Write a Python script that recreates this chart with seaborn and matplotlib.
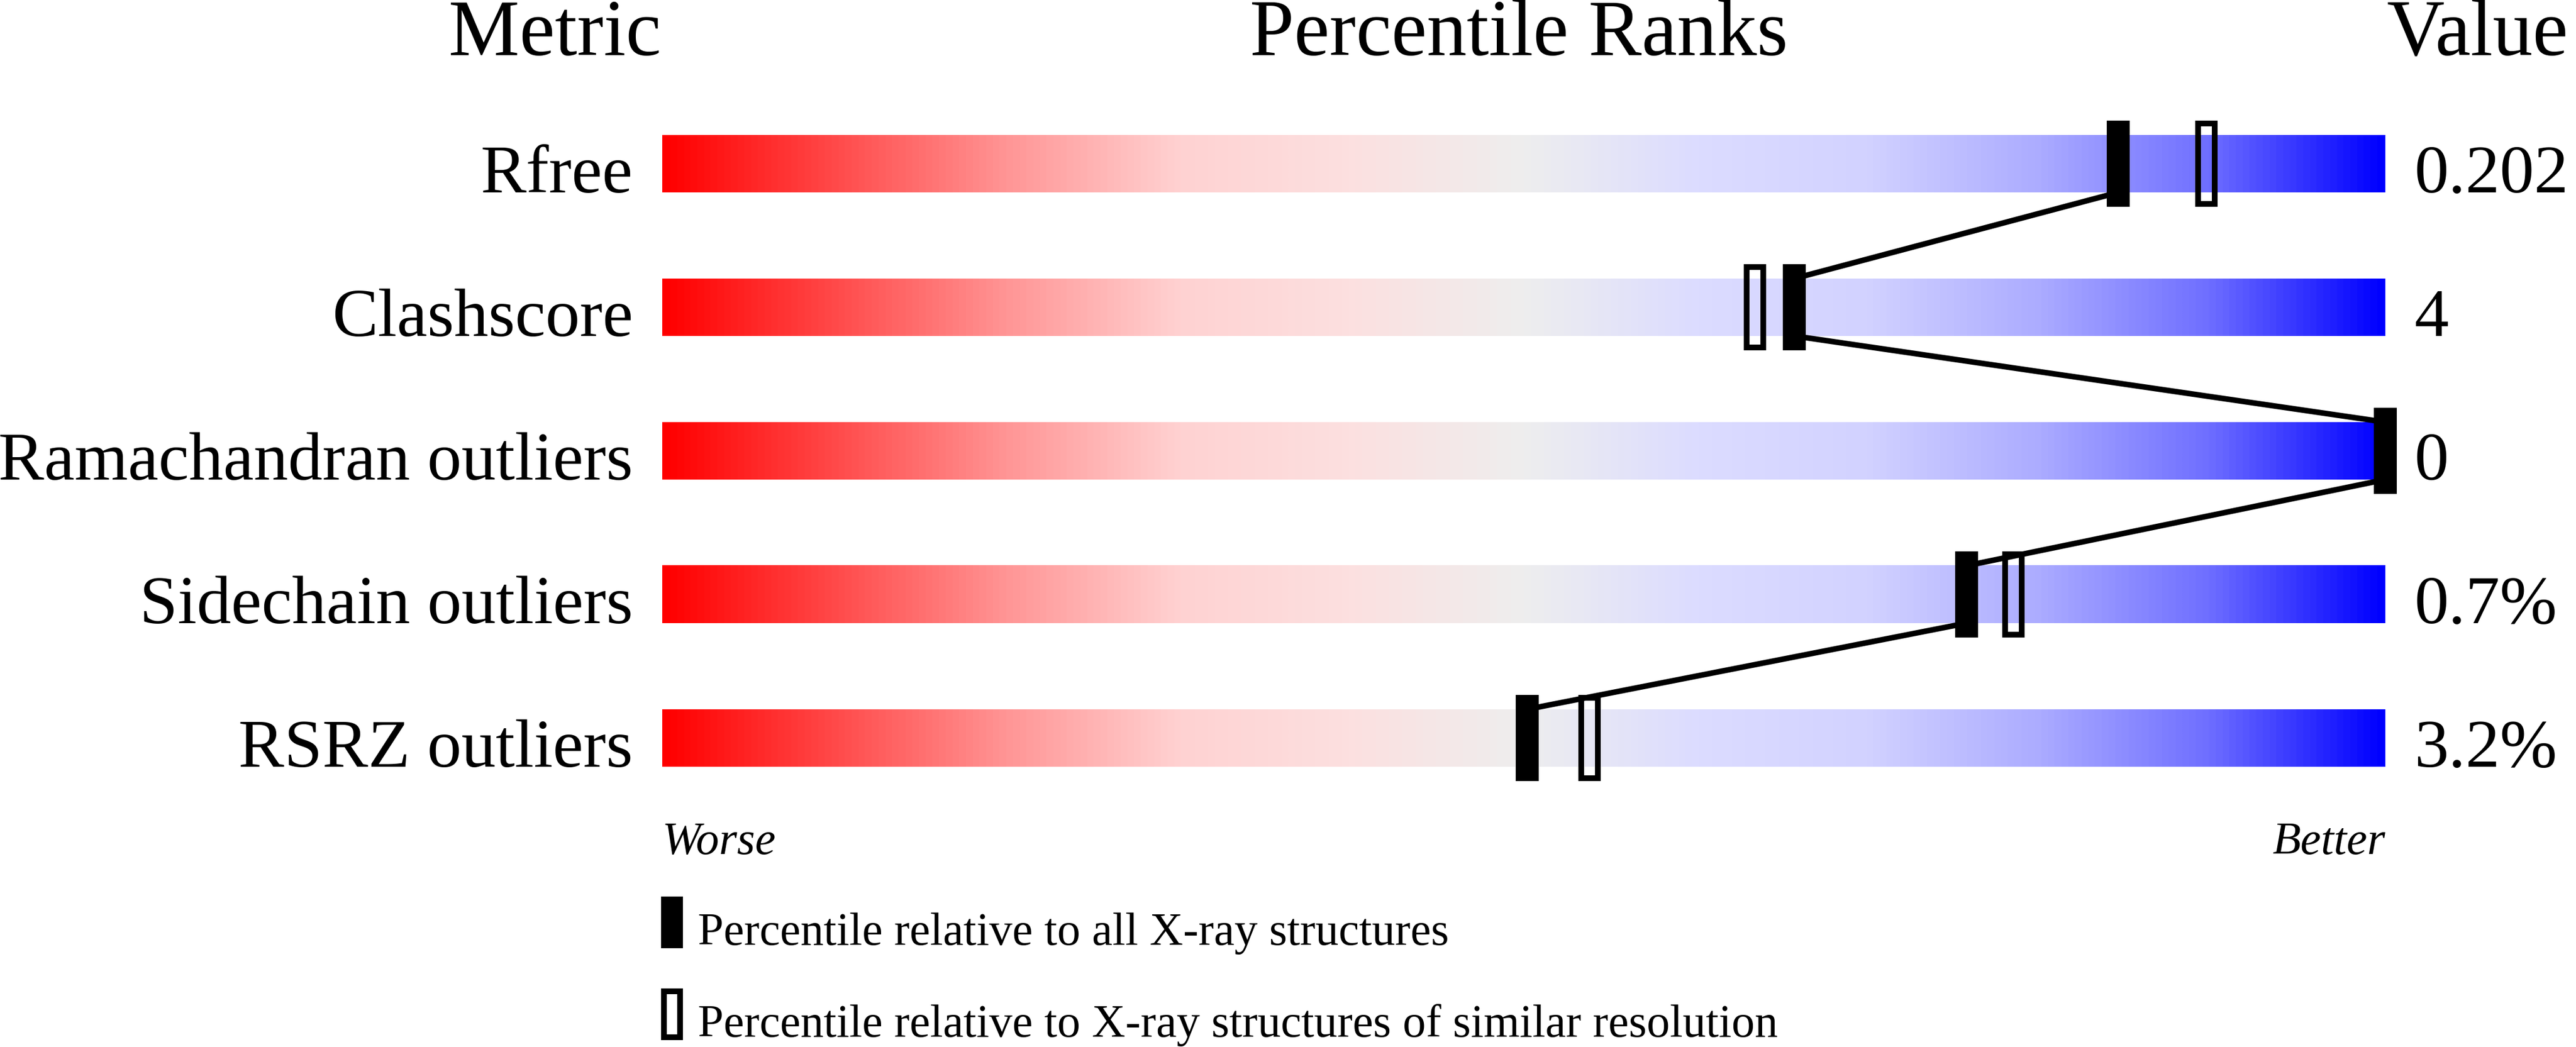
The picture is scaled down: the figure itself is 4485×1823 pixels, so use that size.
import numpy as np
import pandas as pd
import seaborn as sns
import matplotlib.pyplot as plt
from matplotlib.colors import LinearSegmentedColormap

# chart data
metrics = ["Rfree", "Clashscore", "Ramachandran outliers", "Sidechain outliers", "RSRZ outliers"]
values = ["0.202", "4", "0", "0.7%", "3.2%"]
pct_all = [84.5, 65.7, 100.0, 75.7, 50.2]
pct_similar = [89.6, 63.4, np.nan, 78.4, 53.8]
legend_labels = ["Percentile relative to all X-ray structures",
                 "Percentile relative to X-ray structures of similar resolution"]

sns.set_theme(style="white")
plt.rcParams['font.family'] = ['Liberation Serif', 'DejaVu Serif']
plt.rcParams['text.color'] = 'black'

W, H, DPI = 4485, 1824, 100
fig = plt.figure(figsize=(W / DPI, H / DPI), dpi=DPI)
fig.patch.set_facecolor("white")

# axes spans the bar track horizontally (0..100) and the full height; rows are 250 px apart
ax = fig.add_axes([1153 / W, 0, 3000 / W, 1])
ax.set_xlim(0, 100)
ax.set_ylim((H - 286) / 250, -286 / 250)
ax.axis("off")

stops = [(0.0, (255, 0, 0)), (0.1, (255, 75, 75)), (0.2, (255, 150, 150)),
         (0.3, (255, 210, 210)), (0.4, (252, 224, 224)), (0.5, (238, 238, 238)),
         (0.6, (220, 220, 255)), (0.7, (210, 210, 255)), (0.8, (172, 172, 255)),
         (0.9, (110, 110, 255)), (1.0, (0, 0, 255))]
cmap = LinearSegmentedColormap.from_list(
    "wr", [(p, tuple(c / 255 for c in rgb)) for p, rgb in stops])

grad = np.linspace(0, 1, 600).reshape(1, -1)
bar_h = 0.2
rows = np.arange(len(metrics))
for r in rows:
    ax.imshow(grad, cmap=cmap, aspect="auto", extent=(0, 100, r + bar_h, r - bar_h),
              interpolation="bilinear", zorder=1)

# connecting line between the "all structures" markers
line_x, line_y = [], []
for r, p in zip(rows, pct_all):
    line_x += [p, p]
    line_y += [r - bar_h, r + bar_h]
lines = pd.DataFrame({"x": line_x[1:-1], "y": line_y[1:-1]})
sns.lineplot(data=lines, x="x", y="y", sort=False, estimator=None, color="black",
             linewidth=7, ax=ax, zorder=2, clip_on=False)

# markers
mw = 40 / 30
ax.bar(pct_all, 0.6, width=mw, bottom=rows - 0.3, color="black", edgecolor="none",
       zorder=3, clip_on=False)
ax.bar(pct_similar, 0.56, width=29 / 30, bottom=rows - 0.28, facecolor="none",
       edgecolor="black", linewidth=7.2, zorder=3, clip_on=False)

# headers
ax.text(-0.07, -0.76, "Metric", ha="right", va="baseline", fontsize=100)
ax.text(49.7, -0.76, "Percentile Ranks", ha="center", va="baseline", fontsize=100)
ax.text(100.07, -0.76, "Value", ha="left", va="baseline", fontsize=100)

for r, name, val in zip(rows, metrics, values):
    ax.text(-1.7, r + 0.196, name, ha="right", va="baseline", fontsize=86)
    ax.text(101.7, r + 0.196, val, ha="left", va="baseline", fontsize=86)

ax.text(0, 4.804, "Worse", ha="left", va="baseline", fontsize=58, style="italic")
ax.text(100, 4.804, "Better", ha="right", va="baseline", fontsize=58, style="italic")

# legend
ax.bar([0.567], [0.36], width=38 / 30, bottom=[5.104], color="black", edgecolor="none",
       clip_on=False)
ax.bar([0.567], [0.32], width=28 / 30, bottom=[5.764], facecolor="none",
       edgecolor="black", linewidth=7.2, clip_on=False)
ax.text(2.07, 5.436, legend_labels[0], ha="left", va="baseline", fontsize=58)
ax.text(2.07, 6.076, legend_labels[1], ha="left", va="baseline", fontsize=58)

fig.savefig("out.png", dpi=DPI, facecolor="white")
